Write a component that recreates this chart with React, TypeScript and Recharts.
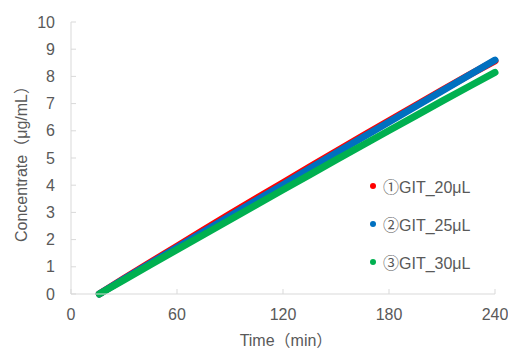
import React from 'react';
import { LineChart, Line, XAxis, YAxis, Label } from 'recharts';

const times = [16, 30, 45, 60, 75, 90, 105, 120, 135, 150, 165, 180, 195, 210, 225, 240];
const git20 = [0, 0.57, 1.17, 1.76, 2.35, 2.94, 3.52, 4.09, 4.67, 5.24, 5.81, 6.37, 6.93, 7.49, 8.04, 8.57];
const git25 = [0, 0.55, 1.13, 1.71, 2.29, 2.87, 3.45, 4.02, 4.6, 5.18, 5.75, 6.32, 6.89, 7.46, 8.03, 8.6];
const git30 = [0, 0.52, 1.08, 1.63, 2.18, 2.73, 3.28, 3.83, 4.38, 4.93, 5.47, 6.01, 6.55, 7.09, 7.62, 8.15];

const seriesNames = ['①GIT_20μL', '②GIT_25μL', '③GIT_30μL'];
const seriesColors = ['#ff0000', '#0070c0', '#00b050'];

const xTicks = [0, 60, 120, 180, 240];
const yTicks = [0, 1, 2, 3, 4, 5, 6, 7, 8, 9, 10];

const data = times.map((t, i) => ({ t, a: git20[i], b: git25[i], c: git30[i] }));
const keys = ['a', 'b', 'c'];

const FONT = '"Liberation Sans", Arial, "Noto Sans CJK SC", sans-serif';
const TEXT = '#595959';
const AXIS = '#d9d9d9';

const YTitle = ({ viewBox }: any) => {
  const cx = 21;
  const cy = viewBox.y + viewBox.height / 2 + 2;
  return (
    <text x={cx} y={cy} transform={`rotate(-90 ${cx} ${cy})`} textAnchor="middle" dominantBaseline="central"
      fill={TEXT} fontSize={16} fontFamily={FONT}>
      Concentrate（μg/mL）
    </text>
  );
};

const XTitle = ({ viewBox }: any) => {
  const cx = viewBox.x + viewBox.width / 2 + 3;
  return (
    <text x={cx} y={340} textAnchor="middle" dominantBaseline="central" fill={TEXT} fontSize={16} fontFamily={FONT}>
      Time（min）
    </text>
  );
};

export default function App() {
  return (
    <div style={{ position: 'absolute', left: 0, top: 0, width: 508, height: 349, background: '#fff' }}>
      <LineChart width={508} height={349} data={data} margin={{ top: 22, right: 13, bottom: 0, left: 0 }}>
        <XAxis dataKey="t" type="number" domain={[0, 240]} ticks={xTicks} interval={0}
          height={55} stroke={AXIS} tickSize={-5} tickMargin={20}
          tick={{ fill: TEXT, fontSize: 16, fontFamily: FONT }}>
          <Label content={<XTitle />} />
        </XAxis>
        <YAxis type="number" domain={[0, 10]} ticks={yTicks} interval={0}
          width={71} stroke={AXIS} tickSize={-5} tickMargin={21}
          tick={{ fill: TEXT, fontSize: 16, fontFamily: FONT }}>
          <Label content={<YTitle />} />
        </YAxis>
        {keys.map((k, i) => (
          <Line key={k} dataKey={k} name={seriesNames[i]} stroke={seriesColors[i]} strokeWidth={7}
            strokeLinecap="round" strokeLinejoin="round" dot={false} isAnimationActive={false} />
        ))}
      </LineChart>
      <div style={{ position: 'absolute', left: 370, top: 167, fontFamily: FONT, fontSize: 16, color: TEXT }}>
        {seriesNames.map((n, i) => (
          <div key={n} style={{ display: 'flex', alignItems: 'center', height: 38 }}>
            <span style={{ width: 6, height: 6, borderRadius: 3, background: seriesColors[i], marginRight: 7 }} />
            <span>{n}</span>
          </div>
        ))}
      </div>
    </div>
  );
}
